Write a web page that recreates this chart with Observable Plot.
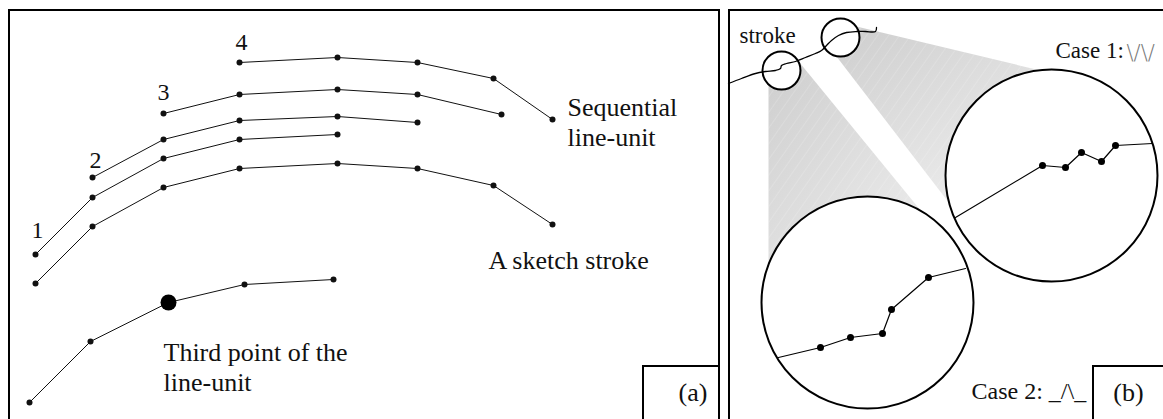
<!DOCTYPE html>
<html><head><meta charset="utf-8">
<script src="https://cdn.jsdelivr.net/npm/d3@7"></script>
<script src="https://cdn.jsdelivr.net/npm/@observablehq/plot@0.6"></script>
<style>body{margin:0;background:#fff}</style>
</head><body><div id="chart"></div>
<script>
// ---------- Panel (a): sequential line-units ----------
const unitIds = ["1", "2", "3", "4"];
const unitX = [[35, 92, 163, 239, 337], [92, 163, 239, 337, 417], [163, 239, 337, 417, 501], [239, 337, 417, 493, 552]];
const unitY = [[254, 197, 158, 139, 134], [177, 139, 120, 116, 122], [113, 94, 89, 94, 114], [62, 57, 62, 78, 119]];
const unitLabelX = [37, 95, 163, 241];
const unitLabelY = [237, 167, 99, 49];

const sketchX = [35, 92, 163, 239, 337, 417, 493, 552];
const sketchY = [283, 226, 187, 168, 163, 168, 185, 224];

const thirdX = [29, 90, 168, 244, 333];
const thirdY = [402, 341, 302, 284, 279];
const thirdIndex = 2;

const labelsA = ["Sequential", "line-unit", "A sketch stroke", "Third point of the", "line-unit", "(a)"];
const labelsAX = [567, 567, 488, 163, 163, 678];
const labelsAY = [115, 145, 268, 360, 390, 400];

// ---------- Panel (b): stroke and magnified cases ----------
const strokeX = [728, 741, 755, 765, 775, 780, 781, 786, 795, 805, 815, 821, 826, 831, 838, 846, 856, 865, 875, 876];
const strokeY = [83, 78, 73, 71, 70, 68, 65, 63, 61, 57, 53, 50, 45, 40, 35, 32, 31, 31, 31, 27];

const smallCircles = [{x: 781, y: 70, r: 19}, {x: 840, y: 37, r: 19}];
const bigCircles = [{x: 1051, y: 175, r: 106}, {x: 867, y: 302, r: 106}];

const cone1X = [768, 799, 921, 867, 768];
const cone1Y = [84, 62, 211, 302, 265];
const cone2X = [856, 1040, 1051, 949, 836];
const cone2Y = [26, 70, 175, 203, 56];

const case1X = [955, 1042, 1065, 1081, 1101, 1115, 1152];
const case1Y = [217, 165, 167, 152, 161, 145, 143];
const case2X = [778, 820, 850, 882, 891, 928, 965];
const case2Y = [357, 347, 337, 333, 309, 277, 268];

const labelsB = ["stroke", "Case 1:", "Case 2: _/\\_"];
const labelsBX = [739, 1055, 971];
const labelsBY = [42, 57, 398];
const labelsBSize = [23, 23, 24];
const tagB = {t: "(b)", x: 1128, y: 400};
const case1Symbol = "\\/\\/";

// frames: panels and tag boxes
const frameX1 = [9, 729, 643, 1093];
const frameX2 = [719, 1190, 719, 1190];
const frameY1 = [10, 10, 366, 366];
const frameY2 = [440, 440, 440, 440];

// ---------- build tables ----------
const unitPts = unitIds.flatMap((id, i) => unitX[i].map((x, j) => ({unit: id, x, y: unitY[i][j]})));
const unitLabels = unitIds.map((t, i) => ({t, x: unitLabelX[i], y: unitLabelY[i]}));
const sketch = sketchX.map((x, i) => ({x, y: sketchY[i]}));
const third = thirdX.map((x, i) => ({x, y: thirdY[i]}));
const textA = labelsA.map((t, i) => ({t, x: labelsAX[i], y: labelsAY[i]}));
const strokePts = strokeX.map((x, i) => ({x, y: strokeY[i]}));
const cones = [
  ...cone1X.map((x, i) => ({c: 1, x, y: cone1Y[i]})),
  ...cone2X.map((x, i) => ({c: 2, x, y: cone2Y[i]}))
];
const case1 = case1X.map((x, i) => ({x, y: case1Y[i]}));
const case2 = case2X.map((x, i) => ({x, y: case2Y[i]}));
const textB = labelsB.map((t, i) => ({t, x: labelsBX[i], y: labelsBY[i], s: labelsBSize[i]}));
const frames = frameX1.map((x1, i) => ({x1, x2: frameX2[i], y1: frameY1[i], y2: frameY2[i]}));

const defs = () => {
  const g = document.createElementNS("http://www.w3.org/2000/svg", "defs");
  g.innerHTML = `
    <linearGradient id="coneGrad" x1="0" y1="0" x2="0.7" y2="1">
      <stop offset="0" stop-color="#cecece"/>
      <stop offset="1" stop-color="#ededed"/>
    </linearGradient>
    <pattern id="hatch" patternUnits="userSpaceOnUse" width="9" height="9" patternTransform="rotate(35)">
      <line x1="0" y1="0" x2="0" y2="9" stroke="#ffffff" stroke-opacity="0.4" stroke-width="0.8"/>
    </pattern>`;
  return g;
};

const serif = "'Liberation Serif', 'Times New Roman', serif";
const ink = "#111";

const chart = Plot.plot({
  width: 1163,
  height: 419,
  margin: 0,
  x: {domain: [0, 1163], range: [0, 1163], axis: null},
  y: {domain: [0, 419], range: [0, 419], axis: null},
  r: {type: "identity"},
  style: {background: "white", overflow: "hidden"},
  marks: [
    defs,
    // panel (a)
    Plot.line(unitPts, {x: "x", y: "y", z: "unit", stroke: ink, strokeWidth: 1}),
    Plot.dot(unitPts, {x: "x", y: "y", r: 3, fill: ink, stroke: "none"}),
    Plot.text(unitLabels, {x: "x", y: "y", text: "t", lineAnchor: "bottom", fontSize: 24, fontFamily: serif, fill: ink}),
    Plot.line(sketch, {x: "x", y: "y", stroke: ink, strokeWidth: 1}),
    Plot.dot(sketch, {x: "x", y: "y", r: 3, fill: ink, stroke: "none"}),
    Plot.line(third, {x: "x", y: "y", stroke: ink, strokeWidth: 1}),
    Plot.dot(third, {x: "x", y: "y", r: 3, fill: ink, stroke: "none"}),
    Plot.dot([third[thirdIndex]], {x: "x", y: "y", r: 8, fill: "#000", stroke: "none"}),
    Plot.text(textA, {x: "x", y: "y", text: "t", textAnchor: "start", lineAnchor: "bottom", fontSize: 26, fontFamily: serif, fill: ink}),
    // panel (b) cones
    Plot.line(cones, {x: "x", y: "y", z: "c", curve: "linear-closed", fill: "url(#coneGrad)", stroke: "none"}),
    Plot.line(cones, {x: "x", y: "y", z: "c", curve: "linear-closed", fill: "url(#hatch)", stroke: "none"}),
    Plot.dot(bigCircles, {x: "x", y: "y", r: "r", fill: "white", stroke: "#000", strokeWidth: 2}),
    Plot.dot(smallCircles, {x: "x", y: "y", r: "r", fill: "white", stroke: "#000", strokeWidth: 2}),
    Plot.line(strokePts, {x: "x", y: "y", stroke: "#000", strokeWidth: 1.3, curve: "catmull-rom"}),
    Plot.line(case1, {x: "x", y: "y", stroke: "#000", strokeWidth: 1.2}),
    Plot.dot(case1.slice(1, -1), {x: "x", y: "y", r: 3.5, fill: "#000", stroke: "none"}),
    Plot.line(case2, {x: "x", y: "y", stroke: "#000", strokeWidth: 1.2}),
    Plot.dot(case2.slice(1, -1), {x: "x", y: "y", r: 3.5, fill: "#000", stroke: "none"}),
    Plot.text(textB, {x: "x", y: "y", text: "t", textAnchor: "start", lineAnchor: "bottom", fontSize: (d) => d.s, fontFamily: serif, fill: ink}),
    Plot.text([tagB], {x: "x", y: "y", text: "t", lineAnchor: "bottom", fontSize: 26, fontFamily: serif, fill: ink}),
    Plot.text([{t: case1Symbol, x: 1126, y: 59}], {x: "x", y: "y", text: "t", textAnchor: "start", lineAnchor: "bottom", fontSize: 21, fontFamily: "'DejaVu Sans', sans-serif", fontWeight: 200, fill: "#777"}),
    // frames
    Plot.rect(frames, {x1: "x1", x2: "x2", y1: "y1", y2: "y2", fill: "none", stroke: "#000", strokeWidth: 2})
  ]
});
document.getElementById("chart").appendChild(chart);
</script></body></html>
